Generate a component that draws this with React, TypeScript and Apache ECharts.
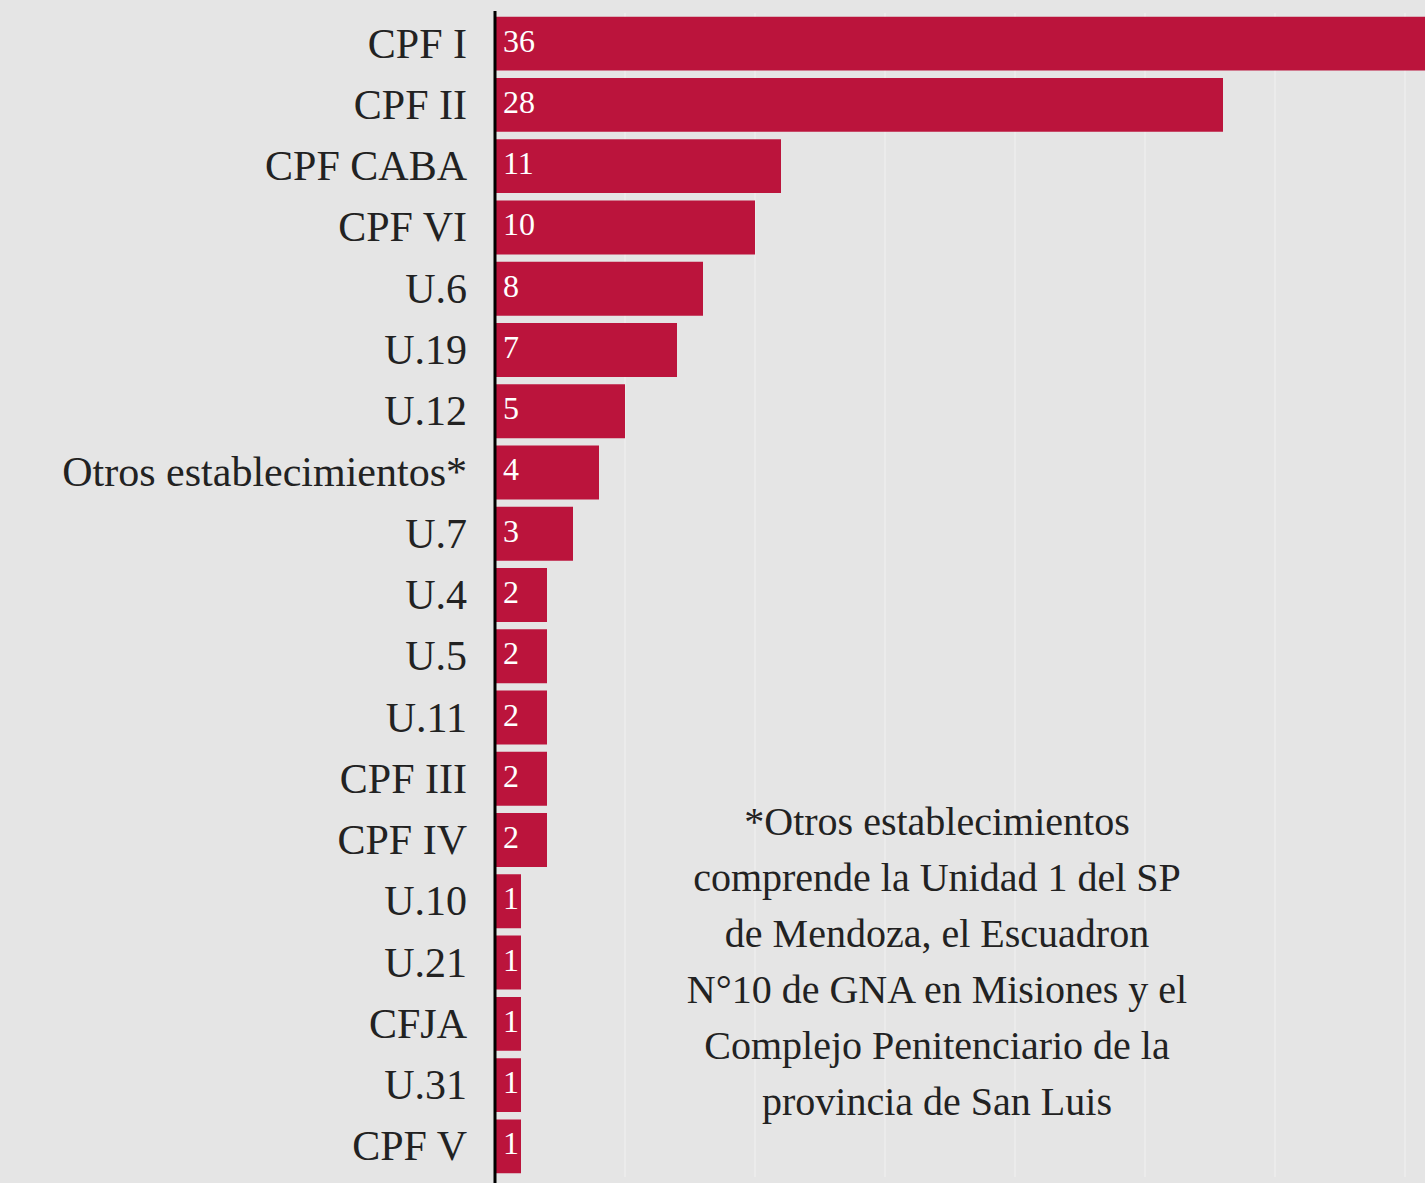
import React, { useEffect, useRef } from "react";
import * as echarts from "echarts";

const categories = [
  "CPF I", "CPF II", "CPF CABA", "CPF VI", "U.6", "U.19", "U.12",
  "Otros establecimientos*", "U.7", "U.4", "U.5", "U.11", "CPF III",
  "CPF IV", "U.10", "U.21", "CFJA", "U.31", "CPF V",
];
const values = [36, 28, 11, 10, 8, 7, 5, 4, 3, 2, 2, 2, 2, 2, 1, 1, 1, 1, 1];
const footnoteLines = [
  "*Otros establecimientos",
  "comprende la Unidad 1 del SP",
  "de Mendoza, el Escuadron",
  "N°10 de GNA en Misiones y el",
  "Complejo Penitenciario de la",
  "provincia de San Luis",
];

const FONT = "'Liberation Serif', 'DejaVu Serif', serif";

export default function App() {
  const ref = useRef<HTMLDivElement>(null);
  useEffect(() => {
    if (!ref.current) return;
    const chart = echarts.init(ref.current, null, { renderer: "svg" });
    chart.setOption({
      animation: false,
      backgroundColor: "#e5e5e5",
      grid: {
        left: 495,
        top: 13,
        width: 936,
        height: 1164,
        containLabel: false,
        outerBoundsMode: "none",
      },
      xAxis: {
        type: "value",
        min: 0,
        max: 36,
        interval: 5,
        axisLabel: { show: false },
        axisLine: { show: false },
        axisTick: { show: false },
        splitLine: { show: true, lineStyle: { color: "#ebebeb", width: 2 } },
      },
      yAxis: {
        type: "category",
        data: categories,
        inverse: true,
        axisLine: { show: false },
        axisTick: { show: false },
        axisLabel: {
          margin: 28,
          fontFamily: FONT,
          fontSize: 42,
          color: "#222",
        },
      },
      series: [
        {
          type: "bar",
          data: values,
          barCategoryGap: "12%",
          itemStyle: { color: "#bb143c" },
          label: {
            show: true,
            position: "insideLeft",
            distance: 8,
            color: "#fff",
            fontFamily: FONT,
            fontSize: 32,
            offset: [0, -3],
          },
        },
      ],
      graphic: [
        {
          type: "line",
          shape: { x1: 495, y1: 11, x2: 495, y2: 1183 },
          style: { stroke: "#000", lineWidth: 3 },
          z: 10,
        },
        {
          type: "text",
          x: 937,
          y: 793,
          z: 100,
          style: {
            text: footnoteLines.join("\n"),
            font: `40px ${FONT}`,
            fill: "#222",
            lineHeight: 56,
            align: "center",
            verticalAlign: "top",
          },
        },
      ],
    });
    return () => chart.dispose();
  }, []);
  return (
    <div
      ref={ref}
      style={{ position: "fixed", left: 0, top: 0, width: 1425, height: 1183 }}
    />
  );
}
